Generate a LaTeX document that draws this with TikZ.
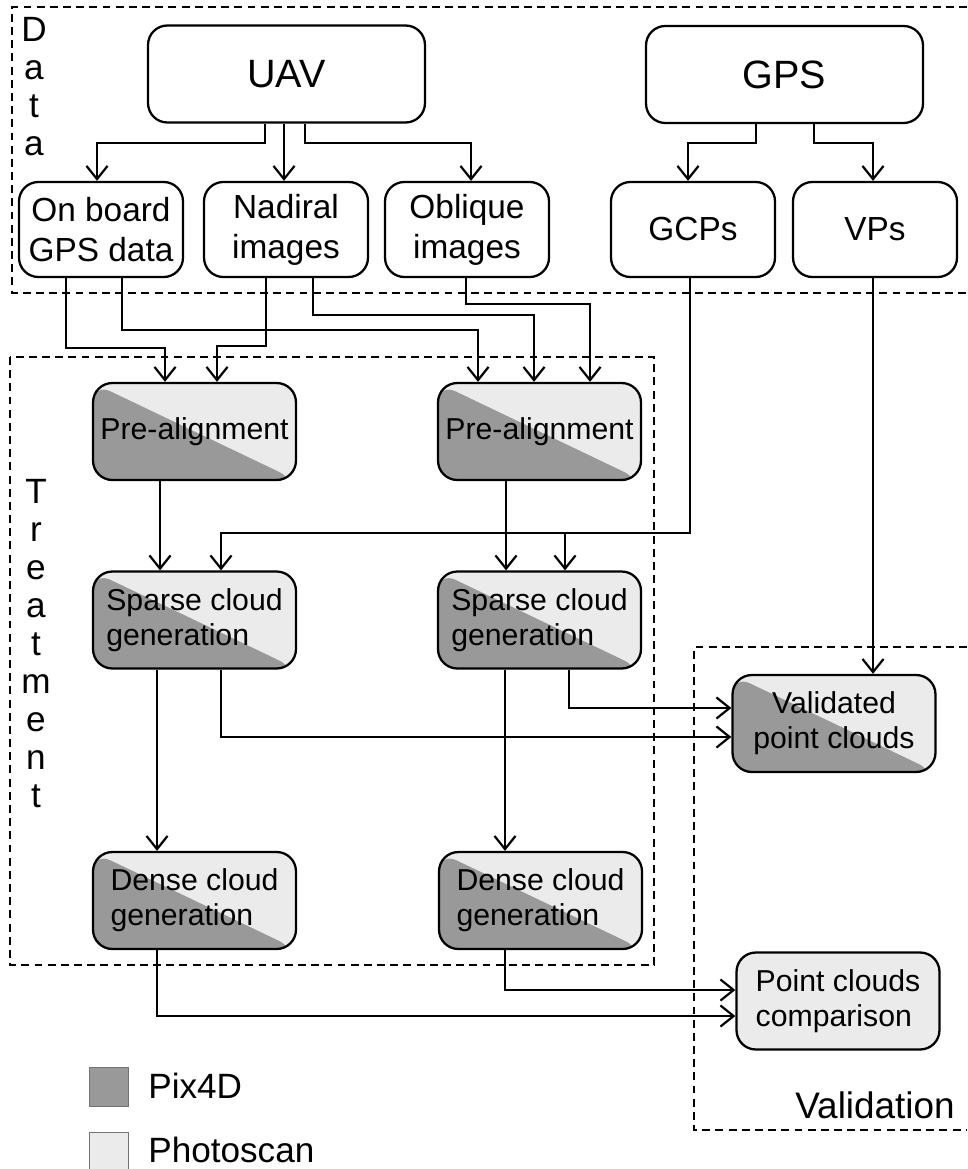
\documentclass[tikz,border=0pt]{standalone}
\usepackage{fontspec}
\setmainfont{Liberation Sans}
\usetikzlibrary{arrows.meta}

\definecolor{pixgray}{HTML}{999999}
\definecolor{photogray}{HTML}{EBEBEB}

\tikzset{
    box/.style={draw, line width=1.3pt, rounded corners=11pt, inner sep=0pt},
    srcbox/.style={box, minimum width=5.54cm, minimum height=1.94cm,
        font=\fontsize{22.5}{26}\selectfont},
    databox/.style={box, minimum width=3.28cm, minimum height=1.9cm, align=center,
        font=\fontsize{19}{22.8}\selectfont},
    stepbox/.style={box, minimum width=4.06cm, minimum height=1.94cm,
        font=\fontsize{17.2}{20}\selectfont, fill=photogray,
        path picture={\fill[pixgray] (path picture bounding box.north west)
            -- (path picture bounding box.south west)
            -- (path picture bounding box.south east) -- cycle;}},
    arr/.style={-{Straight Barb[length=7.5pt,width=12pt]}, line width=1.25pt},
    zone/.style={dash pattern=on 4.5pt off 3pt, line width=0.9pt},
    lbl/.style={inner sep=0pt, font=\fontsize{20}{24}\selectfont},
    legsq/.style={draw=black!55, line width=0.5pt, minimum size=0.78cm, inner sep=0pt}
}

\begin{document}
\begin{tikzpicture}[x=0.02cm, y=-0.02cm]
        \useasboundingbox (0,0) rectangle (967,1169);

        % Draw the zones
        \draw[zone] (967,7) -- (12,7) -- (12,293) -- (967,293);
        \draw[zone] (10,357) rectangle (654,965);
        \draw[zone] (967,647) -- (694,647) -- (694,1130) -- (967,1130);

        % Zone labels
        \foreach \l [count=\i] in {D,a,t,a}
            \node[lbl, anchor=base] (data\i) at (34,4+38*\i) {\l};
        \foreach \l [count=\i] in {T,r,e,a,t,m,e,n,t}
            \node[lbl, anchor=base] (treat\i) at (36,465+38*\i) {\l};
        \node[lbl, font=\fontsize{21}{24}\selectfont, anchor=base west] (validlbl) at (795,1118) {Validation};

        % Sources
        \node[srcbox] (uav) at (286.5,74) {UAV};
        \node[srcbox] (gps) at (784.5,74.5) {GPS};

        % Data
        \node[databox] (onboard) at (101,229.5) {On board\\GPS data};
        \node[databox] (nadiral) at (286,229.5) {Nadiral\\images};
        \node[databox] (oblique) at (467,229.5) {Oblique\\images};
        \node[databox] (gcps) at (693,229.5) {GCPs};
        \node[databox] (vps) at (875,229.5) {VPs};

        % Treatment
        \node[stepbox] (pre1) at (194.5,431.5) {Pre-alignment};
        \node[stepbox] (pre2) at (539.5,431.5) {Pre-alignment};
        \node[stepbox, align=left] (sparse1) at (194.5,620) {Sparse cloud\\generation};
        \node[stepbox, align=left] (sparse2) at (539.5,620) {Sparse cloud\\generation};
        \node[stepbox, align=left] (dense1) at (194.5,900.5) {Dense cloud\\generation};
        \node[stepbox, align=left] (dense2) at (540.5,900.5) {Dense cloud\\generation};

        % Validation
        \node[stepbox, align=center] (valid) at (834,723.5) {Validated\\point clouds};
        \node[stepbox, align=left, path picture={}] (compare) at (838,1001) {Point clouds\\comparison};

        % Legend
        \node[legsq, fill=pixgray] (pixsq) at (108.5,1086.5) {};
        \node[legsq, fill=photogray] (photosq) at (108.5,1151.5) {};
        \node[lbl, anchor=base west] (pixlbl) at (148,1098) {Pix4D};
        \node[lbl, anchor=base west] (photolbl) at (148,1162) {Photoscan};

        % Draw the arrows
        %UAV
        \draw[arr] (uav.south -| 265,0) |- (97,143) -- (onboard.north -| 97,0);
        \draw[arr] (uav.south -| 284,0) -- (nadiral.north -| 284,0);
        \draw[arr] (uav.south -| 305,0) |- (471,143) -- (oblique.north -| 471,0);
        %GPS
        \draw[arr] (gps.south -| 756,0) |- (688,143) -- (gcps.north -| 688,0);
        \draw[arr] (gps.south -| 814,0) |- (873,143) -- (vps.north -| 873,0);
        %images to pre-alignment
        \draw[arr] (onboard.south -| 66,0) |- (165,348) -- (pre1.north -| 165,0);
        \draw[arr] (onboard.south -| 122,0) |- (478,330) -- (pre2.north -| 478,0);
        \draw[arr] (nadiral.south -| 266,0) |- (217,346) -- (pre1.north -| 217,0);
        \draw[arr] (nadiral.south -| 313,0) |- (534,315) -- (pre2.north -| 534,0);
        \draw[arr] (oblique.south -| 466,0) |- (590,304) -- (pre2.north -| 590,0);
        %GCPs
        \coordinate (gcpjoin) at (565,533);
        \draw[arr] (gcps.south -| 690,0) |- (221,533) -- (sparse1.north -| 221,0);
        \draw[arr] (gcpjoin) -- (sparse2.north -| 565,0);
        %VPs
        \draw[arr] (vps.south -| 873,0) -- (valid.north -| 873,0);
        %treatment chain
        \draw[arr] (pre1.south -| 160,0) -- (sparse1.north -| 160,0);
        \draw[arr] (pre2.south -| 506,0) -- (sparse2.north -| 506,0);
        \draw[arr] (sparse1.south -| 157,0) -- (dense1.north -| 157,0);
        \draw[arr] (sparse2.south -| 505,0) -- (dense2.north -| 505,0);
        %validation
        \draw[arr] (sparse1.south -| 221,0) |- (valid.west |- 0,737);
        \draw[arr] (sparse2.south -| 569,0) |- (valid.west |- 0,708);
        \draw[arr] (dense1.south -| 157,0) |- (compare.west |- 0,1016);
        \draw[arr] (dense2.south -| 505,0) |- (compare.west |- 0,990);
    \end{tikzpicture}
\end{document}
